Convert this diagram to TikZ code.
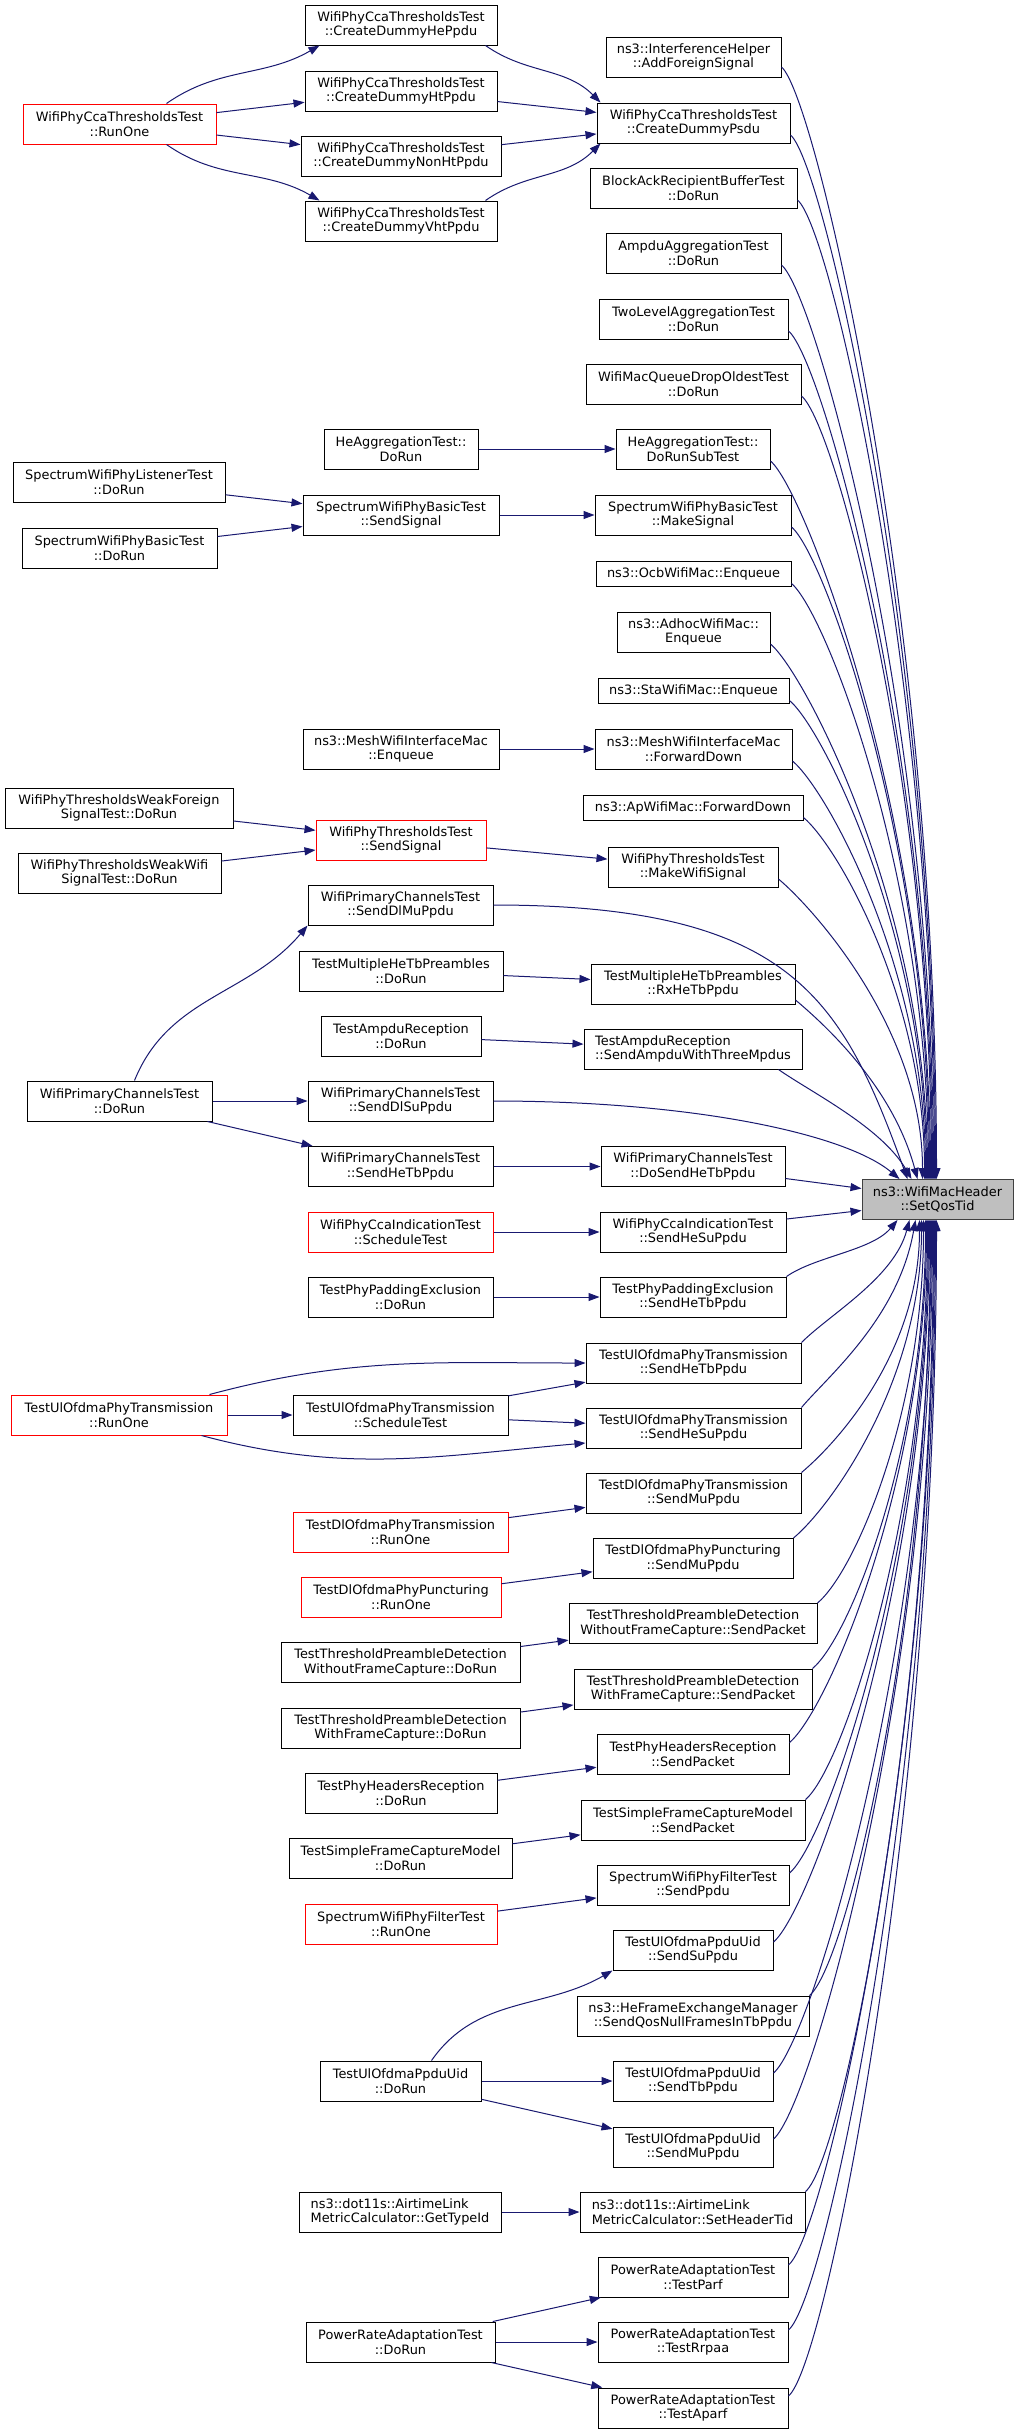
\documentclass[tikz,border=0pt]{standalone}
\usepackage{fontspec}
\setmainfont{DejaVu Sans}
\usepackage{tikz}
\usetikzlibrary{arrows.meta}
\definecolor{edgeblue}{HTML}{191970}
\definecolor{qosgray}{HTML}{BFBFBF}
\definecolor{boxgray}{HTML}{404040}

\begin{document}
\begin{tikzpicture}[x=1pt,y=1pt,>={Triangle[length=11pt,width=8pt]},
  every edge/.append style={draw=edgeblue,line width=1pt},
  func/.style={rectangle,draw=black,line width=1pt,align=center,inner sep=0pt,
    minimum height=40pt,font=\fontsize{12.9}{14.8}\selectfont},
  fw/.style={minimum width=#1pt},
  oneline/.style={minimum height=25pt},
  trunc/.style={func,draw=red},
  qosnode/.style={func,fill=qosgray,draw=boxgray},
  lft/.style={align=left},
  callcurve/.style n args={4}{->,to path={.. controls +(#1:#2) and +(#3:#4) .. (\tikztotarget)}},
  fallcall/.style={callcurve={-40}{45}{90}{#1}},
  risecall/.style={callcurve={40}{50}{-90}{#1}}]

\path[use as bounding box,fill=white] (0,0) rectangle (1019,-2433);

\node[trunc,fw=193] (CRO) at (119.5,-124) {WifiPhyCcaThresholdsTest\\::RunOne};
\node[func,fw=192]  (CHE) at (401,-25)    {WifiPhyCcaThresholdsTest\\::CreateDummyHePpdu};
\node[func,fw=192]  (CHT) at (401,-91)    {WifiPhyCcaThresholdsTest\\::CreateDummyHtPpdu};
\node[func,fw=200]  (CNH) at (401,-156)   {WifiPhyCcaThresholdsTest\\::CreateDummyNonHtPpdu};
\node[func,fw=192]  (CVH) at (401,-221)   {WifiPhyCcaThresholdsTest\\::CreateDummyVhtPpdu};
\node[func,fw=193]  (CPS) at (693.5,-123) {WifiPhyCcaThresholdsTest\\::CreateDummyPsdu};
\node[func,fw=175]  (AFS) at (693.5,-57)  {ns3::InterferenceHelper\\::AddForeignSignal};
\node[func,fw=207]  (BAR) at (693.5,-188) {BlockAckRecipientBufferTest\\::DoRun};
\node[func,fw=175]  (AAT) at (693.5,-253) {AmpduAggregationTest\\::DoRun};
\node[func,fw=189]  (TLA) at (693.5,-319) {TwoLevelAggregationTest\\::DoRun};
\node[func,fw=215]  (DOT) at (693.5,-384) {WifiMacQueueDropOldestTest\\::DoRun};
\node[func,fw=154]  (HAD) at (401,-449)   {HeAggregationTest::\\DoRun};
\node[func,fw=154]  (HAS) at (693,-449)   {HeAggregationTest::\\DoRunSubTest};
\node[func,fw=212]  (SLD) at (119,-482.5) {SpectrumWifiPhyListenerTest\\::DoRun};
\node[func,fw=195]  (SBD) at (119.5,-548) {SpectrumWifiPhyBasicTest\\::DoRun};
\node[func,fw=196]  (SBS) at (401,-515)   {SpectrumWifiPhyBasicTest\\::SendSignal};
\node[func,fw=196]  (SBM) at (693,-515)   {SpectrumWifiPhyBasicTest\\::MakeSignal};
\node[func,fw=195,oneline] (OCB) at (693.5,-573.5) {ns3::OcbWifiMac::Enqueue};
\node[func,fw=153]  (ADH) at (693.5,-632) {ns3::AdhocWifiMac::\\Enqueue};
\node[func,fw=191,oneline] (STA) at (693.5,-690.5) {ns3::StaWifiMac::Enqueue};
\node[func,fw=196]  (MEE) at (401,-749)   {ns3::MeshWifiInterfaceMac\\::Enqueue};
\node[func,fw=197]  (MEF) at (693.5,-749) {ns3::MeshWifiInterfaceMac\\::ForwardDown};
\node[func,fw=220,oneline] (APF) at (693,-807.5) {ns3::ApWifiMac::ForwardDown};
\node[func,fw=228]  (TWF) at (119,-808)   {WifiPhyThresholdsWeakForeign\\SignalTest::DoRun};
\node[trunc,fw=170] (TSS) at (401,-840)   {WifiPhyThresholdsTest\\::SendSignal};
\node[func,fw=203]  (TWW) at (119.5,-873) {WifiPhyThresholdsWeakWifi\\SignalTest::DoRun};
\node[func,fw=170]  (TMW) at (693,-867)   {WifiPhyThresholdsTest\\::MakeWifiSignal};
\node[func,fw=185]  (PDM) at (400.5,-905) {WifiPrimaryChannelsTest\\::SendDlMuPpdu};
\node[func,fw=204]  (MHD) at (401,-971)   {TestMultipleHeTbPreambles\\::DoRun};
\node[func,fw=204]  (MHR) at (693,-984)   {TestMultipleHeTbPreambles\\::RxHeTbPpdu};
\node[func,fw=160]  (ARD) at (401,-1036)  {TestAmpduReception\\::DoRun};
\node[func,fw=218,lft] (ARS) at (693,-1049) {TestAmpduReception\\::SendAmpduWithThreeMpdus};
\node[func,fw=185]  (PCD) at (119.5,-1101) {WifiPrimaryChannelsTest\\::DoRun};
\node[func,fw=185]  (PDS) at (400.5,-1101) {WifiPrimaryChannelsTest\\::SendDlSuPpdu};
\node[func,fw=185]  (PHT) at (400.5,-1166.5) {WifiPrimaryChannelsTest\\::SendHeTbPpdu};
\node[func,fw=184]  (PDH) at (693,-1166.5) {WifiPrimaryChannelsTest\\::DoSendHeTbPpdu};
\node[qosnode,fw=151] (QOS) at (937.5,-1199.5) {ns3::WifiMacHeader\\::SetQosTid};
\node[trunc,fw=185] (CIS) at (400.5,-1232) {WifiPhyCcaIndicationTest\\::ScheduleTest};
\node[func,fw=186]  (CIH) at (693,-1232)   {WifiPhyCcaIndicationTest\\::SendHeSuPpdu};
\node[func,fw=185]  (PED) at (400.5,-1297) {TestPhyPaddingExclusion\\::DoRun};
\node[func,fw=186]  (PES) at (693,-1297)   {TestPhyPaddingExclusion\\::SendHeTbPpdu};
\node[func,fw=215]  (UTT) at (693.5,-1363) {TestUlOfdmaPhyTransmission\\::SendHeTbPpdu};
\node[trunc,fw=216] (UTR) at (119,-1415)   {TestUlOfdmaPhyTransmission\\::RunOne};
\node[func,fw=215]  (UTS) at (400.5,-1415) {TestUlOfdmaPhyTransmission\\::ScheduleTest};
\node[func,fw=215]  (UTU) at (693.5,-1428) {TestUlOfdmaPhyTransmission\\::SendHeSuPpdu};
\node[func,fw=215]  (DTM) at (693.5,-1493) {TestDlOfdmaPhyTransmission\\::SendMuPpdu};
\node[trunc,fw=215] (DTR) at (400.5,-1532) {TestDlOfdmaPhyTransmission\\::RunOne};
\node[func,fw=200]  (DPM) at (693,-1558.5) {TestDlOfdmaPhyPuncturing\\::SendMuPpdu};
\node[trunc,fw=200] (DPR) at (401,-1597)   {TestDlOfdmaPhyPuncturing\\::RunOne};
\node[func,fw=248]  (WOS) at (693,-1623.5) {TestThresholdPreambleDetection\\WithoutFrameCapture::SendPacket};
\node[func,fw=239]  (WOD) at (400.5,-1662.5) {TestThresholdPreambleDetection\\WithoutFrameCapture::DoRun};
\node[func,fw=238]  (WIS) at (693,-1689)   {TestThresholdPreambleDetection\\WithFrameCapture::SendPacket};
\node[func,fw=239]  (WID) at (400.5,-1728) {TestThresholdPreambleDetection\\WithFrameCapture::DoRun};
\node[func,fw=192]  (HRS) at (693,-1754.5) {TestPhyHeadersReception\\::SendPacket};
\node[func,fw=192]  (HRD) at (401,-1793)   {TestPhyHeadersReception\\::DoRun};
\node[func,fw=224]  (FCS) at (693,-1820)   {TestSimpleFrameCaptureModel\\::SendPacket};
\node[func,fw=223]  (FCD) at (400.5,-1858.5) {TestSimpleFrameCaptureModel\\::DoRun};
\node[func,fw=192]  (FTS) at (693,-1885)   {SpectrumWifiPhyFilterTest\\::SendPpdu};
\node[trunc,fw=192] (FTR) at (401,-1924)   {SpectrumWifiPhyFilterTest\\::RunOne};
\node[func,fw=160]  (PUS) at (693,-1950)   {TestUlOfdmaPpduUid\\::SendSuPpdu};
\node[func,fw=232]  (HFE) at (693,-2016)   {ns3::HeFrameExchangeManager\\::SendQosNullFramesInTbPpdu};
\node[func,fw=161]  (PUD) at (400.5,-2081) {TestUlOfdmaPpduUid\\::DoRun};
\node[func,fw=160]  (PUT) at (693,-2081)   {TestUlOfdmaPpduUid\\::SendTbPpdu};
\node[func,fw=160]  (PUM) at (693,-2147)   {TestUlOfdmaPpduUid\\::SendMuPpdu};
\node[func,fw=202,lft] (ALG) at (400,-2212) {ns3::dot11s::AirtimeLink\\MetricCalculator::GetTypeId};
\node[func,fw=225,lft] (ALS) at (692.5,-2212) {ns3::dot11s::AirtimeLink\\MetricCalculator::SetHeaderTid};
\node[func,fw=190]  (PRP) at (693,-2277)   {PowerRateAdaptationTest\\::TestParf};
\node[func,fw=189]  (PRD) at (400.5,-2342) {PowerRateAdaptationTest\\::DoRun};
\node[func,fw=190]  (PRR) at (693,-2342)   {PowerRateAdaptationTest\\::TestRrpaa};
\node[func,fw=190]  (PRA) at (693,-2408)   {PowerRateAdaptationTest\\::TestAparf};

\path ([xshift=-50pt]CRO.north east) edge[->,out=35,in=-150] ([xshift=15pt]CHE.south west)
      (CRO) edge[->] (CHT)
      (CRO) edge[->] (CNH)
      ([xshift=-50pt]CRO.south east) edge[->,out=-35,in=150] ([xshift=15pt]CVH.north west);

\path ([xshift=-12pt]CHE.south east) edge[->,out=-35,in=135] ([xshift=4pt]CPS.north west)
      (CHT) edge[->] (CPS)
      (CNH) edge[->] (CPS)
      ([xshift=-12pt]CVH.north east) edge[->,out=35,in=-135] ([xshift=4pt]CPS.south west);

\path (HAD) edge[->] (HAS)
      (SLD) edge[->] (SBS)
      (SBD) edge[->] (SBS)
      (SBS) edge[->] (SBM)
      (MEE) edge[->] (MEF)
      (TWF) edge[->] (TSS)
      (TWW) edge[->] (TSS)
      (TSS) edge[->] (TMW)
      ([xshift=-78pt]PCD.north east) edge[->,out=68,in=-130] (PDM.south west)
      (PCD) edge[->] (PDS)
      (PCD) edge[->] (PHT)
      (PHT) edge[->] (PDH)
      (MHD) edge[->] (MHR)
      (ARD) edge[->] (ARS);

\path (CIS) edge[->] (CIH)
      (PED) edge[->] (PES)
      ([xshift=-18pt]UTR.north east) edge[->,out=15,in=180] (UTT.west)
      (UTR) edge[->] (UTS)
      ([xshift=-26pt]UTR.south east) edge[->,out=-15,in=-175] ([yshift=-15pt]UTU.west)
      (UTS) edge[->] (UTT)
      (UTS) edge[->] (UTU)
      (DTR) edge[->] (DTM)
      (DPR) edge[->] (DPM)
      (WOD) edge[->] (WOS)
      (WID) edge[->] (WIS)
      (HRD) edge[->] (HRS)
      (FCD) edge[->] (FCS)
      (FTR) edge[->] (FTS)
      ([xshift=-50pt]PUD.north east) edge[->,out=55,in=-150] (PUS.south west)
      (PUD) edge[->] (PUT)
      (PUD) edge[->] (PUM)
      (ALG) edge[->] (ALS)
      (PRD) edge[->] (PRP)
      (PRD) edge[->] (PRR)
      (PRD) edge[->] (PRA);

\path ([yshift=-10pt]AFS.east) edge[fallcall=560] ([xshift=-1pt]QOS.north)
      ([yshift=-12pt]CPS.east) edge[fallcall=520] ([xshift=-2pt]QOS.north)
      ([yshift=-12pt]BAR.east) edge[fallcall=490] ([xshift=-3pt]QOS.north)
      ([yshift=-12pt]AAT.east) edge[fallcall=460] ([xshift=-4pt]QOS.north)
      ([yshift=-12pt]TLA.east) edge[fallcall=425] ([xshift=-5pt]QOS.north)
      ([yshift=-12pt]DOT.east) edge[fallcall=390] ([xshift=-6pt]QOS.north)
      ([yshift=-12pt]HAS.east) edge[fallcall=360] ([xshift=-7pt]QOS.north)
      ([yshift=-12pt]SBM.east) edge[fallcall=325] ([xshift=-8pt]QOS.north)
      ([yshift=-10pt]OCB.east) edge[fallcall=300] ([xshift=-9pt]QOS.north)
      ([yshift=-12pt]ADH.east) edge[fallcall=270] ([xshift=-10pt]QOS.north)
      ([yshift=-10pt]STA.east) edge[fallcall=240] ([xshift=-11pt]QOS.north)
      ([yshift=-12pt]MEF.east) edge[fallcall=210] ([xshift=-12pt]QOS.north)
      ([yshift=-10pt]APF.east) edge[fallcall=180] ([xshift=-13pt]QOS.north)
      ([yshift=-12pt]TMW.east) edge[fallcall=150] ([xshift=-15pt]QOS.north)
      (PDM.east) edge[callcurve={0}{300}{110}{190}] ([xshift=-30pt]QOS.north)
      ([yshift=-16pt]MHR.east) edge[callcurve={-40}{50}{105}{90}] ([xshift=-20pt]QOS.north)
      ([xshift=-24pt]ARS.south east) edge[callcurve={-35}{40}{120}{60}] ([xshift=-26pt]QOS.north)
      (PDS.east) edge[callcurve={0}{200}{140}{70}] ([xshift=-38pt]QOS.north)
      ([yshift=-12pt]PDH.east) edge[->] ([yshift=11pt]QOS.west);

\path ([yshift=13pt]CIH.east) edge[->] ([yshift=-11pt]QOS.west)
      (PES.north east) edge[callcurve={35}{35}{-130}{40}] ([xshift=-40pt]QOS.south)
      (UTT.north east) edge[callcurve={45}{40}{-105}{60}] ([xshift=-28pt]QOS.south)
      (UTU.north east) edge[callcurve={50}{40}{-100}{100}] ([xshift=-22pt]QOS.south)
      (DTM.north east) edge[risecall=130] ([xshift=-18pt]QOS.south)
      (DPM.north east) edge[risecall=160] ([xshift=-16pt]QOS.south)
      (WOS.north east) edge[risecall=190] ([xshift=-14pt]QOS.south)
      (WIS.north east) edge[risecall=225] ([xshift=-12pt]QOS.south)
      ([yshift=12pt]HRS.east) edge[risecall=260] ([xshift=-11pt]QOS.south)
      (FCS.north east) edge[risecall=290] ([xshift=-10pt]QOS.south)
      ([yshift=12pt]FTS.east) edge[risecall=325] ([xshift=-9pt]QOS.south)
      ([yshift=8pt]PUS.east) edge[risecall=360] ([xshift=-8pt]QOS.south)
      (HFE.north east) edge[risecall=390] ([xshift=-7pt]QOS.south)
      ([yshift=8pt]PUT.east) edge[risecall=425] ([xshift=-6pt]QOS.south)
      ([yshift=8pt]PUM.east) edge[risecall=460] ([xshift=-5pt]QOS.south)
      (ALS.north east) edge[risecall=485] ([xshift=-4pt]QOS.south)
      ([yshift=12pt]PRP.east) edge[risecall=520] ([xshift=-3pt]QOS.south)
      ([yshift=12pt]PRR.east) edge[risecall=555] ([xshift=-2pt]QOS.south)
      ([yshift=12pt]PRA.east) edge[risecall=590] ([xshift=-1pt]QOS.south);

\end{tikzpicture}
\end{document}
